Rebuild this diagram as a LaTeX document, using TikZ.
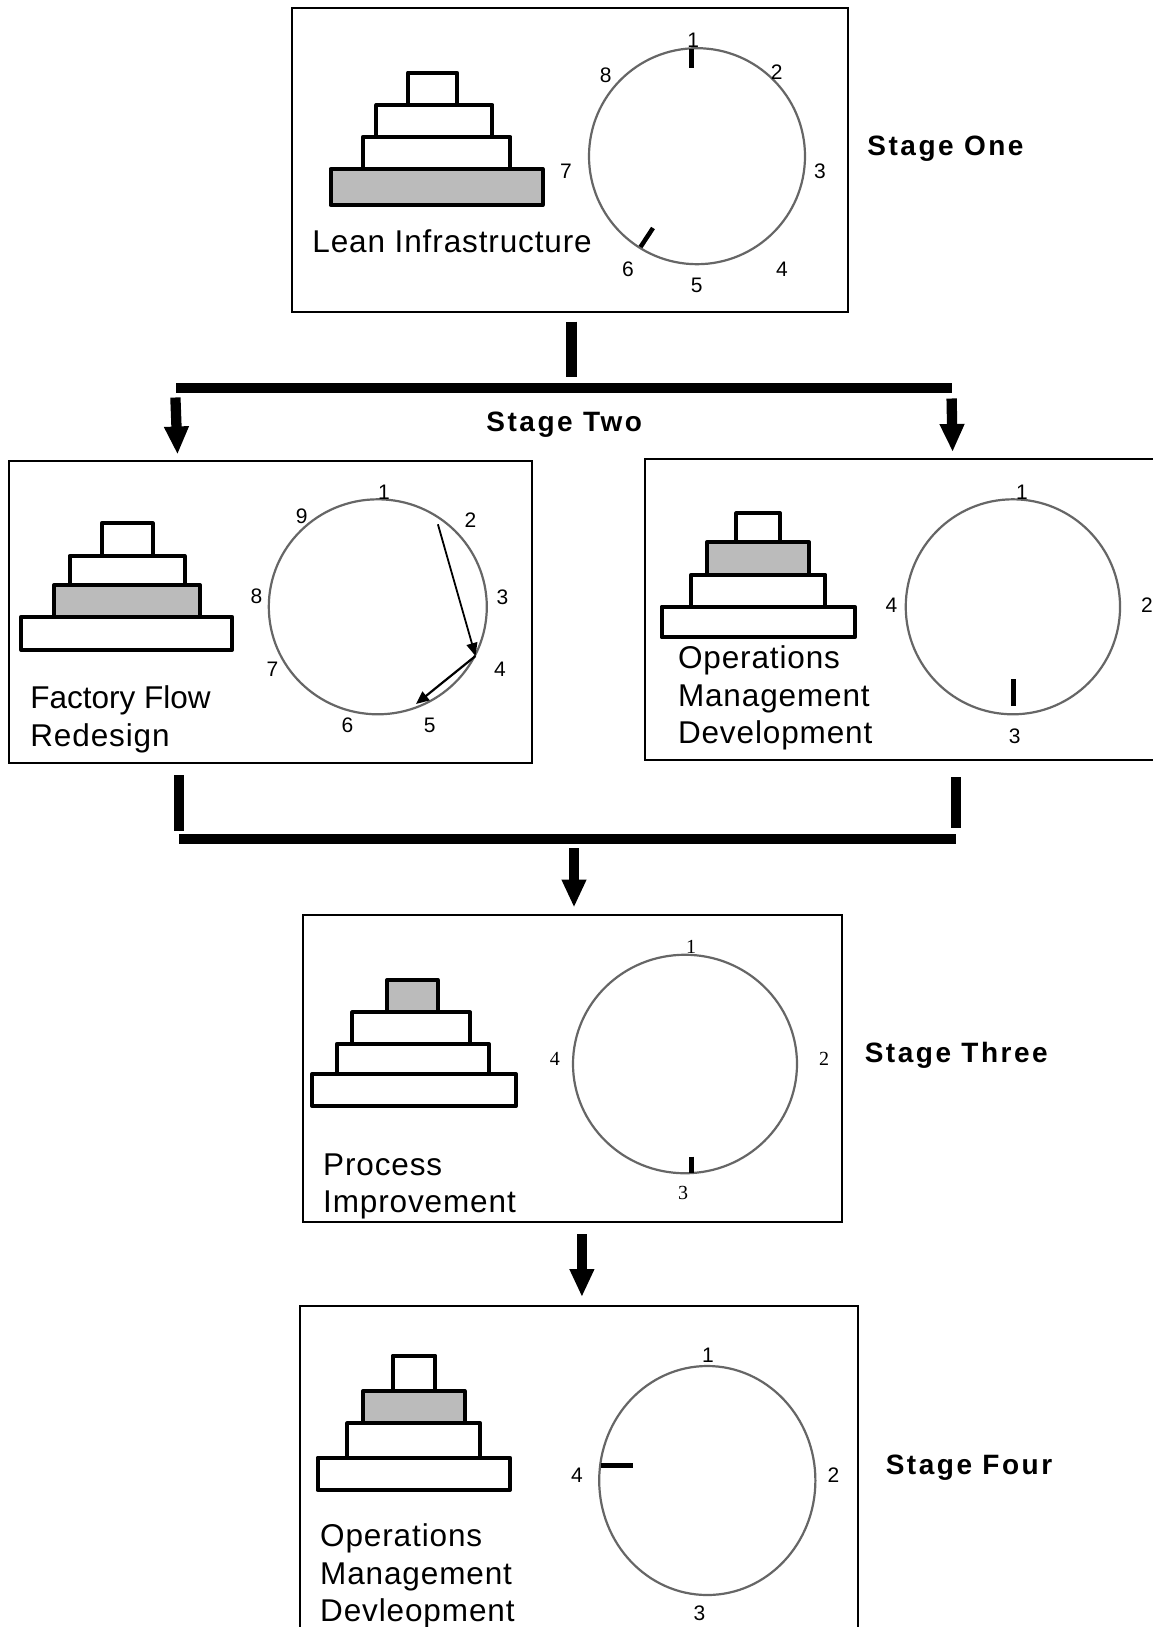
\documentclass[tikz,border=0pt]{standalone}
\usepackage{fontspec}
\setmainfont{Liberation Sans}
\newfontfamily\numserif{Liberation Serif}
\newfontfamily\stagefont[LetterSpace=9]{Liberation Sans}
\newfontfamily\capfont[LetterSpace=2.8]{Liberation Sans}
\usetikzlibrary{arrows.meta,shapes.geometric,fit}
\definecolor{ringgray}{HTML}{666666}
\definecolor{layergray}{HTML}{BBBBBB}
\tikzset{
  panelbox/.style={draw=black,line width=2pt,fill=white,inner sep=0pt,outer sep=0pt,line join=miter,rectangle},
  layer/.style={draw=black,line width=4pt,fill=white,inner sep=0pt,outer sep=0pt,line join=round,rectangle},
  graylayer/.style={layer,fill=layergray},
  ring/.style={draw=ringgray,line width=2.2pt,ellipse,inner sep=0pt,outer sep=0pt},
  num/.style={inner sep=0pt,font=\fontsize{21}{25}\selectfont},
  snum/.style={inner sep=0pt,font=\numserif\fontsize{20}{24}\selectfont},
  caption/.style={anchor=base west,inner sep=0pt,font=\capfont\fontsize{31.5}{36}\selectfont},
  plaincaption/.style={anchor=base west,inner sep=0pt,font=\fontsize{31.5}{36}\selectfont},
  stage/.style={anchor=base west,inner sep=0pt,font=\stagefont\bfseries\fontsize{28}{32}\selectfont},
  tick/.style={line width=5pt,black},
  bar/.style={line width=10.3pt,black},
  bigarrow/.style={line width=10.3pt,black,-{Triangle[width=23pt,length=28pt]}},
  thinarrow/.style={line width=1.8pt,black,-{Triangle[width=11pt,length=13pt]}},
}
\begin{document}
\begin{tikzpicture}[x=1pt,y=-1pt]
\useasboundingbox (0,0) rectangle (1153,1627);
\clip (0,0) rectangle (1153,1627);
% ---------- Stage One
\node[panelbox,fit={(292,8.3) (847.5,312.3)}] (pA) {};
\node[layer,fit={(362.7,137) (510.4,169)}] (a2) {};
\node[layer,fit={(376.4,105) (492.4,137)}] (a3) {};
\node[layer,fit={(408,72.7) (457,105)}] (a4) {};
\node[graylayer,fit={(330.5,169) (542.5,205)}] (a1) {};
\node[caption] (aT) at (312.2,252.7) {Lean Infrastructure};
\node[ring,minimum width=216pt,minimum height=216pt] (rA) at (697,156.2) {};
\draw[tick] (691,49) coordinate (aT1s) -- (691,68) coordinate (aT1e);
\draw[tick,line width=4.5pt] (640.5,247) coordinate (aT2s) -- (653,228) coordinate (aT2e);
\node[num] (an1) at (693.3,40) {1};
\node[num] (an2) at (776.7,71.7) {2};
\node[num] (an3) at (819.9,171) {3};
\node[num] (an4) at (781.9,269.2) {4};
\node[num] (an5) at (696.8,285.5) {5};
\node[num] (an6) at (627.9,269.2) {6};
\node[num] (an7) at (565.9,171) {7};
\node[num] (an8) at (605.7,75) {8};
\node[stage] (sOne) at (867.2,156) {Stage One};
% ---------- connectors below Stage One
\coordinate (c1a) at (571.4,321.7);
\coordinate (c1b) at (571.4,377.3);
\coordinate (c2a) at (176.4,388.3);
\coordinate (c2b) at (951.6,388.3);
\coordinate (c3a) at (175.4,397.5);
\coordinate (c3b) at (177.5,454.5);
\coordinate (c4a) at (951.6,398.5);
\coordinate (c4b) at (952.6,452);
\draw[bar] (c1a) -- (c1b);
\draw[bar] (c2a) -- (c2b);
\draw[bigarrow] (c3a) -- (c3b);
\draw[bigarrow] (c4a) -- (c4b);
\node[stage] (sTwo) at (486.2,431) {Stage Two};
% ---------- Factory Flow
\node[panelbox,fit={(9,461) (532,762.7)}] (pB) {};
\node[layer,fit={(21.4,616.7) (232,650)}] (b1) {};
\node[graylayer,fit={(54.3,585) (200,616.7)}] (b2) {};
\node[layer,fit={(69.6,556) (184.6,585)}] (b3) {};
\node[layer,fit={(101.8,523.3) (152.5,556)}] (b4) {};
\node[plaincaption] (bT1) at (30.2,708.3) {Factory Flow};
\node[caption] (bT2) at (30.2,746.7) {Redesign};
\node[ring,minimum width=218pt,minimum height=215pt] (rB) at (377.8,606.8) {};
\coordinate (ba1) at (437.9,524.3);
\coordinate (ba2) at (475.5,656);
\coordinate (ba3) at (416,704);
\draw[thinarrow] (ba1) -- (ba2);
\draw[thinarrow,line width=2.2pt] (ba2) -- (ba3);
\node[num] (bn1) at (384,492.7) {1};
\node[num] (bn2) at (470.4,520) {2};
\node[num] (bn3) at (502.4,597.2) {3};
\node[num] (bn4) at (499.9,669) {4};
\node[num] (bn5) at (429.6,725) {5};
\node[num] (bn6) at (347.5,725) {6};
\node[num] (bn7) at (272.5,669) {7};
\node[num] (bn8) at (256.4,596.7) {8};
\node[num] (bn9) at (301.8,516.7) {9};
% ---------- Operations Management Development
\node[panelbox,fit={(644.5,458.7) (1160,760)}] (pC) {};
\node[layer,fit={(691.4,574.7) (825.4,606.7)}] (c2l) {};
\node[layer,fit={(661.5,606.7) (854.7,637.3)}] (c1l) {};
\node[graylayer,fit={(707,542.3) (809,574.7)}] (c3l) {};
\node[layer,fit={(736.3,513.3) (780,542.3)}] (c4l) {};
\node[caption] (cT1) at (677.8,668.3) {Operations};
\node[caption] (cT2) at (677.8,706.7) {Management};
\node[caption] (cT3) at (677.8,743.3) {Development};
\node[ring,minimum width=214.3pt,minimum height=215pt] (rC) at (1012.9,606.8) {};
\draw[tick] (1013.9,679.3) coordinate (cTs) -- (1013.9,706) coordinate (cTe);
\node[num] (cn1) at (1022,492.7) {1};
\node[num] (cn2) at (1147,605) {2};
\node[num] (cn3) at (1014.6,736) {3};
\node[num] (cn4) at (891.4,605) {4};
% ---------- connectors into Stage Three
\coordinate (d1a) at (179.3,775);
\coordinate (d1b) at (179.3,831);
\coordinate (d2a) at (955.8,777.3);
\coordinate (d2b) at (955.8,828.3);
\coordinate (d3a) at (179,838.7);
\coordinate (d3b) at (955.7,838.7);
\coordinate (d4a) at (574,848);
\coordinate (d4b) at (574,907.5);
\draw[bar] (d1a) -- (d1b);
\draw[bar] (d2a) -- (d2b);
\draw[bar] (d3a) -- (d3b);
\draw[bigarrow] (d4a) -- (d4b);
% ---------- Process Improvement
\node[panelbox,fit={(303.4,915) (842.2,1221.7)}] (pD) {};
\node[layer,fit={(312,1074) (515.8,1106)}] (d1l) {};
\node[layer,fit={(336.7,1044) (489,1074)}] (d2l) {};
\node[layer,fit={(352.4,1012.3) (469.9,1044)}] (d3l) {};
\node[graylayer,fit={(387.2,980) (437.7,1012.3)}] (d4l) {};
\node[caption] (dT1) at (323,1175) {Process};
\node[caption] (dT2) at (323,1212.7) {Improvement};
\node[ring,minimum width=224pt,minimum height=218.5pt] (rD) at (685,1064) {};
\draw[tick] (691,1156.7) coordinate (dTs) -- (691,1173) coordinate (dTe);
\node[snum] (dn1) at (691,947.3) {1};
\node[snum] (dn2) at (824.2,1059.3) {2};
\node[snum] (dn3) at (683,1192.7) {3};
\node[snum] (dn4) at (554.8,1059.3) {4};
\node[stage] (sThree) at (864.6,1062.7) {Stage Three};
% ---------- connector to Stage Four
\coordinate (e1a) at (581.9,1234);
\coordinate (e1b) at (581.9,1297);
\draw[bigarrow] (e1a) -- (e1b);
% ---------- Operations Management Devleopment
\node[panelbox,fit={(300.3,1306) (858.3,1640)}] (pE) {};
\node[layer,fit={(317.6,1457.7) (510,1490)}] (e1l) {};
\node[layer,fit={(347.4,1423.3) (480.2,1457.7)}] (e2l) {};
\node[graylayer,fit={(363,1391) (464.5,1423.3)}] (e3l) {};
\node[layer,fit={(392.6,1355.7) (435.4,1391)}] (e4l) {};
\node[caption] (eT1) at (320,1546.7) {Operations};
\node[caption] (eT2) at (320,1584.3) {Management};
\node[caption] (eT3) at (320,1621) {Devleopment};
\node[ring,minimum width=216.2pt,minimum height=229pt] (rE) at (707.3,1480.5) {};
\draw[tick] (600.8,1465.3) coordinate (eTs) -- (632.5,1465.3) coordinate (eTe);
\node[num] (en1) at (707.9,1355) {1};
\node[num] (en2) at (833.4,1474.8) {2};
\node[num] (en3) at (699.5,1613) {3};
\node[num] (en4) at (577,1474.8) {4};
\node[stage] (sFour) at (885.6,1474.7) {Stage Four};
\end{tikzpicture}
\end{document}
